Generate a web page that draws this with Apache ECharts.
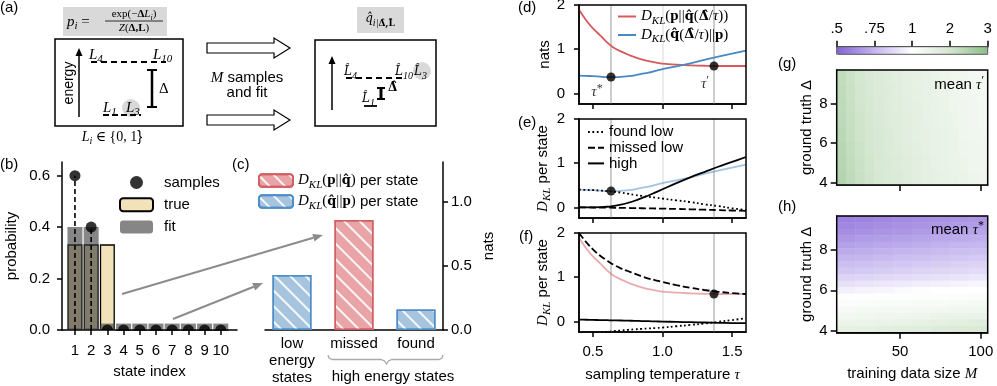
<!DOCTYPE html>
<html>
<head>
<meta charset="utf-8">
<script src="https://cdn.jsdelivr.net/npm/echarts@6/dist/echarts.min.js"></script>
<style>
  html, body { margin: 0; padding: 0; background: #fff; }
  #chart { width: 997px; height: 386px; }
</style>
</head>
<body>
<div id="chart"></div>
<script>
// ---- data ----
// (b) state probabilities
var states = [1, 2, 3, 4, 5, 6, 7, 8, 9, 10];
var trueProb = [0.333, 0.333, 0.333, 0, 0, 0, 0, 0, 0, 0];
var fitProb = [0.4, 0.4, 0.025, 0.025, 0.025, 0.025, 0.025, 0.025, 0.025, 0.025];
var sampleProb = [0.6, 0.4, 0, 0, 0, 0, 0, 0, 0, 0];
var probTicks = [0, 0.2, 0.4, 0.6];

// (c) KL per state
var klCats = ['low\nenergy\nstates', 'missed', 'found'];
var klPQ = [null, 0.86, null];
var klQP = [0.43, null, 0.16];
var natsTicks = [0, 0.5, 1.0];

// (d)-(f) sampling temperature sweep
var tau = [0.4, 0.45, 0.5, 0.55, 0.6, 0.65, 0.7, 0.75, 0.8, 0.85, 0.9, 0.95, 1.0, 1.1, 1.2, 1.3, 1.4, 1.5, 1.6];
var dPQ = [1.90, 1.66, 1.47, 1.32, 1.16, 1.03, 0.95, 0.88, 0.82, 0.77, 0.73, 0.70, 0.675, 0.65, 0.635, 0.625, 0.62, 0.62, 0.62];
var dQP = [0.40, 0.395, 0.39, 0.38, 0.37, 0.37, 0.375, 0.39, 0.41, 0.44, 0.47, 0.51, 0.55, 0.61, 0.68, 0.76, 0.83, 0.90, 0.97];
var eFoundLow = [0.40, 0.395, 0.39, 0.38, 0.37, 0.355, 0.335, 0.31, 0.285, 0.26, 0.24, 0.22, 0.20, 0.16, 0.12, 0.07, 0.03, -0.02, -0.06];
var eMissedLow = [0, 0, -0.002, -0.004, -0.006, -0.008, -0.01, -0.013, -0.016, -0.019, -0.022, -0.025, -0.028, -0.035, -0.043, -0.052, -0.061, -0.07, -0.08];
var eHigh = [0, 0, 0.002, 0.006, 0.015, 0.035, 0.06, 0.10, 0.15, 0.21, 0.27, 0.34, 0.41, 0.55, 0.68, 0.80, 0.92, 1.03, 1.14];
var fMissedLow = [2.0, 1.80, 1.63, 1.49, 1.38, 1.28, 1.20, 1.14, 1.08, 1.02, 0.97, 0.93, 0.89, 0.82, 0.76, 0.71, 0.67, 0.64, 0.62];
var fHigh = [0.04, 0.037, 0.033, 0.03, 0.027, 0.023, 0.02, 0.016, 0.012, 0.008, 0.004, 0, -0.004, -0.011, -0.018, -0.025, -0.032, -0.037, -0.04];
var fFoundLow = [-0.32, -0.30, -0.28, -0.26, -0.24, -0.22, -0.205, -0.19, -0.18, -0.17, -0.16, -0.15, -0.14, -0.11, -0.08, -0.05, -0.01, 0.03, 0.07];
var tauTicks = [0.5, 1.0, 1.5];
var tauStar = 0.63, tauPrime = 1.37;
var starVal = 0.37, primeVal = 0.62;

// (g) mean tau' : 16 columns of M, 8 rows of Delta (top row = largest Delta)
var gM = [13.7, 19.5, 25.4, 31.2, 37.1, 42.9, 48.8, 54.6, 60.5, 66.3, 72.2, 78.0, 83.9, 89.7, 95.6, 101.4];
var gDelta = [9.32, 8.60, 7.88, 7.16, 6.44, 5.72, 5.00, 4.26];
var tauPrimeGrid = [
  [2.25, 2.10, 1.98, 1.88, 1.80, 1.73, 1.67, 1.61, 1.56, 1.51, 1.46, 1.42, 1.37, 1.33, 1.28, 1.24],
  [2.27, 2.12, 2.00, 1.90, 1.82, 1.75, 1.68, 1.62, 1.57, 1.52, 1.47, 1.43, 1.38, 1.34, 1.29, 1.25],
  [2.30, 2.14, 2.02, 1.92, 1.84, 1.76, 1.70, 1.64, 1.59, 1.54, 1.49, 1.44, 1.40, 1.35, 1.31, 1.27],
  [2.32, 2.17, 2.04, 1.94, 1.86, 1.78, 1.72, 1.66, 1.60, 1.55, 1.50, 1.46, 1.41, 1.37, 1.32, 1.28],
  [2.35, 2.19, 2.06, 1.96, 1.88, 1.80, 1.73, 1.67, 1.62, 1.57, 1.52, 1.47, 1.43, 1.38, 1.34, 1.30],
  [2.38, 2.22, 2.09, 1.98, 1.90, 1.82, 1.75, 1.69, 1.63, 1.58, 1.53, 1.49, 1.44, 1.40, 1.36, 1.32],
  [2.41, 2.25, 2.11, 2.01, 1.92, 1.84, 1.77, 1.71, 1.65, 1.60, 1.55, 1.50, 1.46, 1.41, 1.37, 1.33],
  [2.45, 2.28, 2.14, 2.03, 1.94, 1.86, 1.79, 1.73, 1.67, 1.62, 1.57, 1.52, 1.47, 1.43, 1.39, 1.35]
];
// (h) mean tau* : 8 columns of M, 18 rows of Delta (top row = largest Delta)
var hM = [16.6, 28.3, 40.0, 51.7, 63.4, 75.1, 86.8, 98.5];
var hDelta = [9.52, 9.20, 8.88, 8.56, 8.24, 7.92, 7.59, 7.27, 6.95, 6.63, 6.31, 5.99, 5.67, 5.35, 5.02, 4.70, 4.38, 4.06];
var tauStarGrid = [
  [0.59, 0.60, 0.61, 0.62, 0.63, 0.64, 0.65, 0.66],
  [0.61, 0.62, 0.63, 0.64, 0.65, 0.66, 0.67, 0.68],
  [0.63, 0.64, 0.65, 0.66, 0.67, 0.68, 0.69, 0.70],
  [0.66, 0.67, 0.68, 0.69, 0.70, 0.71, 0.72, 0.73],
  [0.69, 0.70, 0.71, 0.72, 0.73, 0.74, 0.75, 0.76],
  [0.72, 0.73, 0.74, 0.75, 0.76, 0.77, 0.78, 0.79],
  [0.75, 0.76, 0.77, 0.78, 0.79, 0.80, 0.81, 0.82],
  [0.78, 0.79, 0.80, 0.81, 0.82, 0.83, 0.84, 0.85],
  [0.81, 0.82, 0.83, 0.84, 0.85, 0.86, 0.87, 0.88],
  [0.85, 0.86, 0.87, 0.88, 0.89, 0.90, 0.91, 0.92],
  [0.90, 0.91, 0.92, 0.93, 0.94, 0.95, 0.96, 0.97],
  [0.95, 0.96, 0.97, 0.98, 0.99, 1.00, 1.01, 1.02],
  [1.01, 1.02, 1.03, 1.05, 1.06, 1.07, 1.08, 1.10],
  [1.09, 1.11, 1.12, 1.14, 1.16, 1.17, 1.19, 1.21],
  [1.19, 1.21, 1.23, 1.25, 1.27, 1.29, 1.31, 1.33],
  [1.30, 1.33, 1.35, 1.38, 1.40, 1.43, 1.46, 1.49],
  [1.43, 1.46, 1.49, 1.52, 1.56, 1.60, 1.64, 1.68],
  [1.57, 1.61, 1.65, 1.69, 1.73, 1.77, 1.81, 1.85]
];
var mTicks = [50, 100];
var deltaTicks = [4, 6, 8];
var cbTicks = [0.5, 0.75, 1, 2, 3];
var cbLabels = ['.5', '.75', '1', '2', '3'];

// ---- styling ----
var sans = '"Liberation Sans", Arial, sans-serif';
var serif = '"Liberation Serif", "DejaVu Serif", serif';
var hatSerif = '"DejaVu Serif", serif';
var RED = '#d65a5e', BLUE = '#4a88c4';
var cbColors = ['#8563d6', '#c4b5ee', '#ffffff', '#d3e6cf', '#8cbd87'];

function mathRich(fs) {
  var sub = Math.round(fs * 0.7);
  function st(o) { o.color = '#000'; o.fill = '#000'; return o; }
  return {
    m: st({fontFamily: serif, fontStyle: 'italic', fontSize: fs, lineHeight: fs + 5}),
    r: st({fontFamily: serif, fontSize: fs, lineHeight: fs + 5}),
    b: st({fontFamily: serif, fontWeight: 'bold', fontSize: fs, lineHeight: fs + 5}),
    hm: st({fontFamily: hatSerif, fontStyle: 'italic', fontSize: fs - 2, lineHeight: fs + 5}),
    hb: st({fontFamily: hatSerif, fontWeight: 'bold', fontSize: fs - 2, lineHeight: fs + 5}),
    s: st({fontFamily: serif, fontStyle: 'italic', fontSize: sub, lineHeight: sub, verticalAlign: 'bottom'}),
    sb: st({fontFamily: hatSerif, fontWeight: 'bold', fontSize: sub - 1, lineHeight: sub, verticalAlign: 'bottom'}),
    u: st({fontFamily: serif, fontSize: sub + 1, lineHeight: sub, verticalAlign: 'top'}),
    t: st({fontFamily: sans, fontSize: fs, lineHeight: fs + 5})
  };
}
var rich15 = mathRich(15);

// piecewise colour scale: the colorbar ticks are evenly spaced
function tauToPos(v) {
  if (v <= cbTicks[0]) return 0;
  for (var i = 1; i < cbTicks.length; i++) {
    if (v <= cbTicks[i]) return i - 1 + (v - cbTicks[i - 1]) / (cbTicks[i] - cbTicks[i - 1]);
  }
  return cbTicks.length - 1;
}

function axisBase(o) {
  var a = {
    axisLine: {show: true, onZero: false, lineStyle: {color: '#000', width: 1.5}},
    axisTick: {show: true, length: 5, lineStyle: {color: '#000', width: 1.5}},
    axisLabel: {color: '#000', fontSize: 15, fontFamily: sans},
    splitLine: {show: false},
    nameTextStyle: {color: '#000', fontSize: 15, fontFamily: sans, rich: rich15}
  };
  for (var k in o) {
    if (a[k] && typeof o[k] === 'object' && !Array.isArray(o[k])) a[k] = Object.assign({}, a[k], o[k]);
    else a[k] = o[k];
  }
  return a;
}
function fixed1(v) { return v.toFixed(1); }
function pairs(xs, ys) { return xs.map(function (x, i) { return [x, ys[i]]; }); }

var frame = {show: true, borderColor: '#000', borderWidth: 1.5, z: 5, outerBoundsMode: 'none'};
var grids = [
  {left: 62, top: 162, width: 175, height: 168, outerBoundsMode: 'none'},            // b
  {left: 265, top: 162, width: 178, height: 168, outerBoundsMode: 'none'},           // c
  Object.assign({left: 579, top: 5, width: 167, height: 99}, frame),                 // d
  Object.assign({left: 579, top: 119, width: 167, height: 99}, frame),               // e
  Object.assign({left: 579, top: 233, width: 167, height: 99}, frame),               // f
  Object.assign({left: 836.7, top: 70, width: 151, height: 115}, frame),             // g
  Object.assign({left: 836.7, top: 216, width: 151, height: 116.7}, frame),          // h
  {left: 836.7, top: 46.7, width: 151, height: 7.6, show: true, borderColor: '#555', borderWidth: 1, z: 5, outerBoundsMode: 'none'} // colorbar
];

var tauAxis = {type: 'value', min: 0.4, max: 1.6, axisTick: {customValues: tauTicks}};
var klAxisY = {type: 'value', min: -0.24, max: 2, axisTick: {customValues: [0, 1, 2]},
  axisLabel: {customValues: [0, 1, 2], margin: 14}, nameLocation: 'middle', nameRotate: 90, nameGap: 24};

var xAxes = [
  axisBase({gridIndex: 0, type: 'value', min: 0.2, max: 11, axisTick: {customValues: states},
    axisLabel: {customValues: states, margin: 13}, name: 'state index', nameLocation: 'middle', nameGap: 34}),
  axisBase({gridIndex: 1, type: 'value', min: -0.435, max: 2.435, axisTick: {show: false},
    axisLabel: {customValues: [0, 1, 2], formatter: function (v) { return klCats[v]; }, lineHeight: 17, margin: 5}}),
  axisBase(Object.assign({gridIndex: 2, axisLabel: {show: false}}, tauAxis)),
  axisBase(Object.assign({gridIndex: 3, axisLabel: {show: false}}, tauAxis)),
  axisBase(Object.assign({gridIndex: 4, axisLabel: {customValues: tauTicks, formatter: fixed1, margin: 12},
    name: 'sampling temperature {m|τ}', nameLocation: 'middle', nameGap: 33}, tauAxis)),
  axisBase({gridIndex: 5, type: 'value', min: 10.8, max: 104.3, axisTick: {customValues: mTicks, length: 6}, axisLabel: {show: false}}),
  {gridIndex: 5, type: 'category', data: gM, show: false},
  axisBase({gridIndex: 6, type: 'value', min: 10.8, max: 104.3, axisTick: {customValues: mTicks, length: 6},
    axisLabel: {customValues: mTicks, margin: 12}, name: 'training data size {m|M}', nameLocation: 'middle', nameGap: 31}),
  {gridIndex: 6, type: 'category', data: hM, show: false},
  axisBase({gridIndex: 7, type: 'value', position: 'top', min: 0, max: 4, interval: 1, axisTick: {length: 6},
    axisLabel: {formatter: function (v) { return cbLabels[v]; }, margin: 10}})
];
var deltaAxis = {type: 'value', min: 3.9, max: 9.68, axisTick: {customValues: deltaTicks, length: 6},
  axisLabel: {customValues: deltaTicks, margin: 9}, name: 'ground truth Δ', nameLocation: 'middle', nameRotate: 90, nameGap: 22};
var yAxes = [
  axisBase({gridIndex: 0, type: 'value', min: 0, max: 0.653, axisTick: {customValues: probTicks},
    axisLabel: {customValues: probTicks, formatter: fixed1, margin: 12}, name: 'probability', nameLocation: 'middle', nameRotate: 90, nameGap: 43}),
  axisBase({gridIndex: 1, type: 'value', position: 'right', min: 0, max: 1.3125, axisTick: {customValues: natsTicks},
    axisLabel: {customValues: natsTicks, formatter: fixed1, margin: 8}, name: 'nats', nameLocation: 'middle', nameRotate: 90, nameGap: 38}),
  axisBase(Object.assign({gridIndex: 2, name: 'nats'}, klAxisY)),
  axisBase(Object.assign({gridIndex: 3, name: '{m|D}{s|KL}{t| per state}'}, klAxisY)),
  axisBase(Object.assign({gridIndex: 4, name: '{m|D}{s|KL}{t| per state}'}, klAxisY)),
  axisBase(Object.assign({gridIndex: 5}, deltaAxis)),
  {gridIndex: 5, type: 'category', data: gDelta.slice().reverse(), show: false},
  axisBase(Object.assign({gridIndex: 6}, deltaAxis)),
  {gridIndex: 6, type: 'category', data: hDelta.slice().reverse(), show: false},
  {gridIndex: 7, type: 'value', min: 0, max: 1, show: false}
];

// ---- series ----
var halfDisk = 'path://M0,10A10,10,0,0,1,20,10Z';
var series = [];
// (b)
series.push({name: 'true', type: 'bar', xAxisIndex: 0, yAxisIndex: 0, barWidth: 15, barGap: '-100%',
  data: pairs(states, trueProb), itemStyle: {color: '#f2e2b9', borderColor: '#000', borderWidth: 1.3}});
series.push({name: 'fit', type: 'bar', xAxisIndex: 0, yAxisIndex: 0, barWidth: 15, barGap: '-100%',
  data: pairs(states, fitProb), itemStyle: {color: 'rgba(60,60,60,0.62)'}});
series.push({name: 'stems', type: 'custom', xAxisIndex: 0, yAxisIndex: 0, z: 3, data: pairs(states, sampleProb),
  renderItem: function (params, api) {
    var v = api.value(1);
    if (!v) return null;
    var p0 = api.coord([api.value(0), 0]), p1 = api.coord([api.value(0), v]);
    return {type: 'line', shape: {x1: p0[0], y1: p0[1], x2: p1[0], y2: p1[1]},
      style: {stroke: '#000', lineWidth: 1.6, lineDash: [5, 3]}};
  }});
series.push({name: 'samples', type: 'scatter', xAxisIndex: 0, yAxisIndex: 0, z: 4, symbolSize: 11,
  itemStyle: {color: '#000'},
  data: states.map(function (s, i) {
    var v = sampleProb[i];
    return v === 0 ? {value: [s, v], symbol: halfDisk, symbolSize: [11, 5.5], symbolOffset: [0, -2.75]} : [s, v];
  })});
// (c)
var hatch = {symbol: 'rect', symbolSize: 1, color: 'rgba(255,255,255,0.9)', dashArrayX: [1, 0], dashArrayY: [1.6, 9], rotation: Math.PI / 4};
function klData(arr) {
  return arr.map(function (v, i) { return v == null ? null : [i, v]; }).filter(function (d) { return d; });
}
series.push({name: 'pq', type: 'bar', xAxisIndex: 1, yAxisIndex: 1, barWidth: 39, barGap: '-100%', data: klData(klPQ),
  itemStyle: {color: '#e8a4a7', borderColor: '#d25f64', borderWidth: 1.5, decal: hatch}});
series.push({name: 'qp', type: 'bar', xAxisIndex: 1, yAxisIndex: 1, barWidth: 39, barGap: '-100%', data: klData(klQP),
  itemStyle: {color: '#a7c4df', borderColor: '#4f8ec6', borderWidth: 1.5, decal: hatch}});

// (d)-(f)
var guides = {silent: true, symbol: 'none', z: 1, label: {show: false}, animation: false,
  data: [
    {xAxis: tauStar, lineStyle: {color: '#cdcdcd', width: 2, type: 'solid'}},
    {xAxis: 1.0, lineStyle: {color: '#ececec', width: 2, type: 'solid'}},
    {xAxis: tauPrime, lineStyle: {color: '#cdcdcd', width: 2, type: 'solid'}}
  ]};
function curve(name, grid, ys, color, type, extra) {
  return Object.assign({name: name, type: 'line', xAxisIndex: grid, yAxisIndex: grid, data: pairs(tau, ys),
    symbol: 'none', smooth: 0.4, lineStyle: {color: color, width: 1.8, type: type}, itemStyle: {color: color}}, extra || {});
}
var dotted = [1.8, 2.6], dashed = [7, 3];
series.push(curve('dpq', 2, dPQ, RED, 'solid', {markLine: guides}));
series.push(curve('dqp', 2, dQP, BLUE, 'solid'));
series.push({name: 'dots-d', type: 'scatter', xAxisIndex: 2, yAxisIndex: 2, z: 6, symbolSize: 9, itemStyle: {color: '#000'},
  label: {show: true, position: 'bottom', rich: rich15, color: '#000'},
  data: [
    {value: [tauStar, starVal], label: {formatter: '{m|τ}{u|*}', offset: [-14, -4]}},
    {value: [tauPrime, primeVal], label: {formatter: '{m|τ}{u|′}', offset: [-9, -1]}}
  ]});
series.push(curve('dqpLight', 3, dQP, 'rgba(74,136,196,0.5)', 'solid', {markLine: guides}));
series.push(curve('found low', 3, eFoundLow, '#000', dotted));
series.push(curve('missed low', 3, eMissedLow, '#000', dashed));
series.push(curve('high', 3, eHigh, '#000', 'solid'));
series.push({name: 'dots-e', type: 'scatter', xAxisIndex: 3, yAxisIndex: 3, z: 6, symbolSize: 9, itemStyle: {color: '#000'},
  data: [[tauStar, starVal]]});
series.push(curve('dpqLight', 4, dPQ, 'rgba(214,90,94,0.5)', 'solid', {markLine: guides}));
series.push(curve('missed low', 4, fMissedLow, '#000', dashed));
series.push(curve('high', 4, fHigh, '#000', 'solid'));
series.push(curve('found low', 4, fFoundLow, '#000', dotted));
series.push({name: 'dots-f', type: 'scatter', xAxisIndex: 4, yAxisIndex: 4, z: 6, symbolSize: 9, itemStyle: {color: '#000'},
  data: [[tauPrime, primeVal]]});

// (g),(h)
function heatData(gridVals) {
  var out = [], n = gridVals.length;
  gridVals.forEach(function (row, r) {
    row.forEach(function (v, c) { out.push([c, n - 1 - r, tauToPos(v)]); });
  });
  return out;
}
var heatG = series.length;
series.push({name: 'mean tau prime', type: 'heatmap', xAxisIndex: 6, yAxisIndex: 6, data: heatData(tauPrimeGrid), z: 1,
  emphasis: {disabled: true}});
var heatH = series.length;
series.push({name: 'mean tau star', type: 'heatmap', xAxisIndex: 8, yAxisIndex: 8, data: heatData(tauStarGrid), z: 1,
  emphasis: {disabled: true}});

// ---- legends ----
var legendNames = {
  pq: '{m|D}{s|KL}{r|(}{b|p}{r|||}{hb|q\u0302}{r|)}{t| per state}',
  qp: '{m|D}{s|KL}{r|(}{hb|q\u0302}{r|||}{b|p}{r|)}{t| per state}',
  dpq: '{m|D}{s|KL}{r|(}{b|p}{r|||}{hb|q\u0302}{r|(}{hb|Δ\u0302}{r|/}{m|τ}{r|))}',
  dqp: '{m|D}{s|KL}{r|(}{hb|q\u0302}{r|(}{hb|Δ\u0302}{r|/}{m|τ}{r|)||}{b|p}{r|)}'
};
function legendFmt(n) { return legendNames[n] || n; }
var legends = [
  {data: ['samples', 'true', 'fit'], left: 119, top: 175, orient: 'vertical', itemWidth: 33, itemHeight: 13, itemGap: 7.3,
    textStyle: {fontSize: 15, fontFamily: sans, color: '#000', lineHeight: 15, padding: [0, 0, 0, 6]}},
  {data: ['pq', 'qp'], left: 258, top: 173, orient: 'vertical', itemWidth: 34, itemHeight: 12.5, itemGap: 3.5,
    formatter: legendFmt, textStyle: {rich: rich15, color: '#000'}},
  {data: ['dpq', 'dqp'], left: 617, top: 9, orient: 'vertical', itemWidth: 18, itemHeight: 10, itemGap: 1,
    formatter: legendFmt, textStyle: {rich: rich15, color: '#000'}, itemStyle: {opacity: 0}},
  {data: ['found low', 'missed low', 'high'], left: 587, top: 124.5, orient: 'vertical', itemWidth: 16, itemHeight: 10, itemGap: 0.7,
    textStyle: {fontSize: 15, fontFamily: sans, color: '#000', lineHeight: 15}, itemStyle: {opacity: 0}}
];
legends.forEach(function (l) { l.padding = 0; l.selectedMode = false; });

// ---- annotations (panel a, arrows, braces, labels) ----
var G = [];
function txt(x, y, text, opt) {
  var st = Object.assign({text: text, fill: '#000', font: '15px ' + sans, textAlign: 'left',
    textVerticalAlign: 'middle', verticalAlign: 'middle'}, opt || {});
  st.align = st.textAlign;
  return {type: 'text', x: x, y: y, z: 100, style: st};
}
function mtxt(x, y, text, fs, align) {
  return txt(x, y, text, {rich: mathRich(fs), textAlign: align || 'left'});
}
function ln(x1, y1, x2, y2, opt) {
  return {type: 'line', z: 100, shape: {x1: x1, y1: y1, x2: x2, y2: y2},
    style: Object.assign({stroke: '#000', lineWidth: 1.5}, opt || {})};
}
function poly(points, opt) {
  return {type: 'polygon', z: 100, shape: {points: points}, style: Object.assign({fill: '#000'}, opt || {})};
}
function box(x, y, w, h, opt) {
  return {type: 'rect', z: 99, shape: {x: x, y: y, width: w, height: h}, style: Object.assign({fill: 'none', stroke: '#000', lineWidth: 1.5}, opt || {})};
}
function circ(cx, cy, r, fill) { return {type: 'circle', z: 99, shape: {cx: cx, cy: cy, r: r}, style: {fill: fill}}; }

// panel labels
G.push(txt(0, 8, '(a)'), txt(0, 165, '(b)'), txt(232, 165, '(c)'), txt(518, 8, '(d)'), txt(518, 123, '(e)'),
  txt(519, 237, '(f)'), txt(778, 64, '(g)'), txt(778, 207, '(h)'));

// (a) left formula
G.push(box(63, 7, 104, 29, {fill: '#d9d9d9', stroke: 'none'}));
G.push(mtxt(67, 22, '{m|p}{s|i}{r| =}', 15));
G.push(mtxt(134, 14, '{r|exp(−}{b|Δ}{m|L}{s|i}{r|)}', 11, 'center'));
G.push(ln(105, 21, 163, 21, {lineWidth: 0.8}));
G.push(mtxt(134, 28.5, '{m|Z}{r|(}{b|Δ,L}{r|)}', 11, 'center'));
// (a) left box
G.push(box(55, 39, 128, 87));
G.push(ln(79, 117, 79, 54));
G.push(poly([[75.5, 56], [79, 48], [82.5, 56]]));
var energy = txt(69, 83, 'energy', {textAlign: 'center', font: '14px ' + sans});
energy.rotation = Math.PI / 2;
G.push(energy);
G.push(ln(91, 62, 166, 62, {lineWidth: 1.8, lineDash: [6, 4]}));
G.push(mtxt(89, 55, '{m|L}{s|4}', 15));
G.push(mtxt(153, 55, '{m|L}{s|10}', 15));
G.push(ln(152, 70, 152, 107, {lineWidth: 2.5}));
G.push(ln(147, 70, 157, 70, {lineWidth: 2}));
G.push(ln(147, 107, 157, 107, {lineWidth: 2}));
G.push(mtxt(159, 89, '{r|Δ}', 15));
G.push(circ(131, 108, 9, '#d9d9d9'));
G.push(ln(103, 115, 141, 115, {lineWidth: 1.8, lineDash: [6, 3]}));
G.push(mtxt(103, 108, '{m|L}{s|1}', 15));
G.push(mtxt(126, 108, '{m|L}{s|3}', 15));
G.push(mtxt(112, 137, '{m|L}{s|i}{r| ∈ {0, 1}}', 14, 'center'));
// (a) middle arrows
function blockArrow(cy) {
  return poly([[207, cy - 5], [274, cy - 5], [274, cy - 10], [290, cy], [274, cy + 10], [274, cy + 5], [207, cy + 5]],
    {fill: '#fff', stroke: '#000', lineWidth: 1.2});
}
G.push(blockArrow(48), blockArrow(120));
G.push(mtxt(247, 78, '{m|M}{t| samples}', 15, 'center'));
G.push(txt(247, 93, 'and fit', {textAlign: 'center'}));
// (a) right box
G.push(box(357, 7, 47, 26, {fill: '#d9d9d9', stroke: 'none'}));
G.push(mtxt(380, 19, '{hm|q\u0302}{s|i|}{sb|Δ\u0302,L\u0302}', 14, 'center'));
G.push(box(315, 40, 121, 86));
G.push(ln(332, 110, 332, 62));
G.push(poly([[328.5, 64], [332, 56], [335.5, 64]]));
G.push(ln(346, 78, 404, 78, {lineWidth: 1.8, lineDash: [6, 4]}));
G.push(mtxt(344, 72, '{hm|L\u0302}{s|4}', 14));
G.push(mtxt(395, 72, '{hm|L\u0302}{s|10}', 14));
G.push(circ(422, 71, 9, '#d9d9d9'));
G.push(mtxt(414, 72, '{hm|L\u0302}{s|3}', 14));
G.push(ln(381, 88, 381, 99, {lineWidth: 3}));
G.push(ln(377, 88, 385, 88, {lineWidth: 2}));
G.push(ln(377, 99, 385, 99, {lineWidth: 2}));
G.push(mtxt(388, 88, '{hb|Δ\u0302}', 14));
G.push(mtxt(362, 99, '{hm|L\u0302}{s|1}', 14));
G.push(ln(364, 106, 377, 106, {lineWidth: 1.8}));

// (b)->(c) arrows
G.push({type: 'polyline', z: 100, shape: {points: [[122, 294], [313.4, 237.8]]}, style: {stroke: '#8c8c8c', lineWidth: 2, fill: 'none'}});
G.push(poly([[323, 235], [314.5, 241.6], [312.3, 234.0]], {fill: '#8c8c8c'}));
G.push({type: 'polyline', z: 100, shape: {points: [[173, 319], [253.7, 286.7]]}, style: {stroke: '#8c8c8c', lineWidth: 2, fill: 'none'}});
G.push(poly([[263, 283], [255.2, 290.4], [252.2, 283.0]], {fill: '#8c8c8c'}));
// (c) brace and group label
G.push({type: 'polyline', z: 100, shape: {points: [[328, 355], [329, 358], [332, 359.5], [381, 359.5], [384.5, 361], [386.5, 364],
  [388.5, 361], [392, 359.5], [439, 359.5], [442, 358], [443, 355]]}, style: {stroke: '#aaa', lineWidth: 1.3, fill: 'none'}});
G.push(txt(393, 377, 'high energy states', {textAlign: 'center'}));
// heatmap captions
G.push(mtxt(984, 85, '{t|mean }{m|τ}{u|′}', 15, 'right'));
G.push(mtxt(984, 230, '{t|mean }{m|τ}{u|*}', 15, 'right'));

var option = {
  animation: false,
  backgroundColor: '#fff',
  textStyle: {fontFamily: sans, color: '#000'},
  grid: grids,
  xAxis: xAxes,
  yAxis: yAxes,
  legend: legends,
  visualMap: {type: 'continuous', min: 0, max: 4, dimension: 2, seriesIndex: [heatG, heatH],
    inRange: {color: cbColors}, orient: 'horizontal', left: 836.7, top: 46.7, itemWidth: 7.6, itemHeight: 151,
    padding: 0, calculable: false, text: null, hoverLink: false, z: 1},
  series: series,
  graphic: {elements: G}
};

var chart = echarts.init(document.getElementById('chart'), null, {renderer: 'canvas'});
chart.setOption(option);
</script>
</body>
</html>
